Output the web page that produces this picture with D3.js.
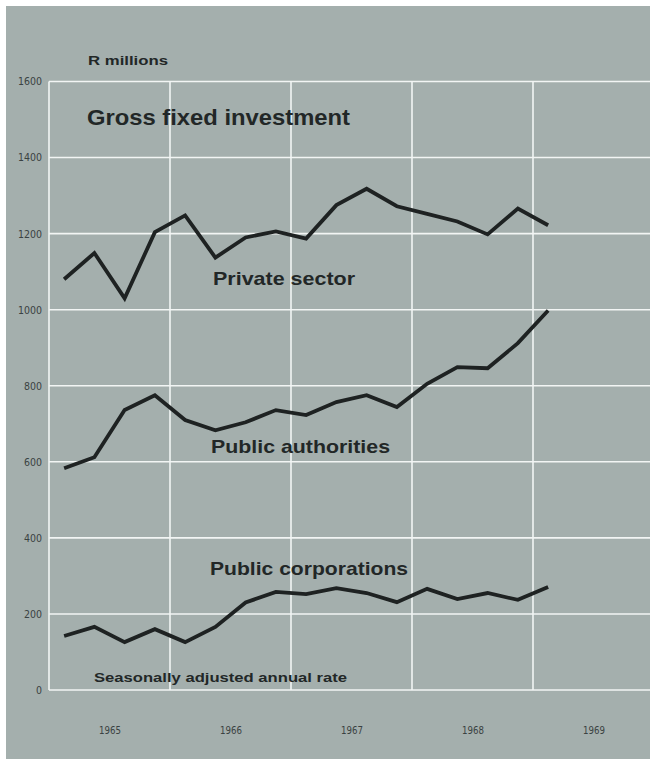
<!DOCTYPE html>
<html>
<head>
<meta charset="utf-8">
<script src="https://cdn.jsdelivr.net/npm/d3@7"></script>
<style>
  html, body { margin: 0; padding: 0; background: #ffffff; }
  svg { display: block; }
</style>
</head>
<body>
<svg id="chart" width="650" height="759"></svg>
<script>
// Quarterly series, R millions, seasonally adjusted annual rate (1965 Q1 – 1969 Q1)
const quarters = [
  "1965Q1","1965Q2","1965Q3","1965Q4",
  "1966Q1","1966Q2","1966Q3","1966Q4",
  "1967Q1","1967Q2","1967Q3","1967Q4",
  "1968Q1","1968Q2","1968Q3","1968Q4",
  "1969Q1"
];
const privateSector = [1080, 1149, 1030, 1204, 1248, 1137, 1190, 1206, 1187, 1275, 1318, 1272, 1252, 1232, 1198, 1266, 1222];
const publicAuthorities = [583, 612, 736, 775, 710, 683, 704, 736, 723, 757, 775, 744, 805, 849, 846, 912, 998];
const publicCorporations = [142, 166, 126, 160, 126, 166, 230, 258, 252, 268, 255, 231, 266, 239, 255, 237, 271];

const yearLabels = ["1965", "1966", "1967", "1968", "1969"];
const yTicks = [0, 200, 400, 600, 800, 1000, 1200, 1400, 1600];

const svg = d3.select("#chart");
const W = 650, H = 759;
const condensed = "'DejaVu Sans Condensed', 'DejaVu Sans', sans-serif";

// paper and panel
svg.append("rect").attr("width", W).attr("height", H).attr("fill", "#ffffff");
svg.append("rect").attr("x", 6).attr("y", 6).attr("width", W - 6).attr("height", H - 6)
  .attr("fill", "#a4afad");

const x = d3.scaleLinear().domain([1965, 1970]).range([49, 654]);
const y = d3.scaleLinear().domain([0, 1600]).range([690, 81.5]);

const qTime = q => +q.slice(0, 4) + (+q.slice(5) - 0.5) / 4;

// grid
const grid = svg.append("g").attr("stroke", "#f2f5f4").attr("stroke-width", 1.6);
grid.selectAll("line.h").data(yTicks).join("line")
  .attr("x1", x(1965)).attr("x2", W)
  .attr("y1", d => y(d)).attr("y2", d => y(d));
grid.selectAll("line.v").data([1965, 1966, 1967, 1968, 1969]).join("line")
  .attr("x1", d => x(d)).attr("x2", d => x(d))
  .attr("y1", y(1600)).attr("y2", y(0));

// y axis labels
const yAxis = d3.axisLeft(y).tickValues(yTicks).tickFormat(d3.format("d"))
  .tickSize(0).tickPadding(7);
const gy = svg.append("g").attr("transform", `translate(${x(1965)},0)`).call(yAxis);
gy.select(".domain").remove();
gy.selectAll("text")
  .attr("font-family", condensed)
  .attr("font-stretch", "condensed")
  .attr("font-size", 10.5).attr("fill", "#3a4242")
  .attr("textLength", d => String(d).length * 6)
  .attr("lengthAdjust", "spacingAndGlyphs");

// x axis year labels (centred in each year band)
const xAxis = d3.axisBottom(x).tickValues(yearLabels.map(d => +d + 0.5))
  .tickFormat(d => String(Math.floor(d))).tickSize(0).tickPadding(0);
const gx = svg.append("g").attr("transform", "translate(0,726)").call(xAxis);
gx.select(".domain").remove();
gx.selectAll("text")
  .attr("font-family", condensed)
  .attr("font-stretch", "condensed")
  .attr("font-size", 11).attr("fill", "#3a4242")
  .attr("textLength", 22)
  .attr("lengthAdjust", "spacingAndGlyphs");

// series lines
const line = d3.line().x((d, i) => x(qTime(quarters[i]))).y(d => y(d));
[privateSector, publicAuthorities, publicCorporations].forEach(s => {
  svg.append("path").datum(s)
    .attr("d", line)
    .attr("fill", "none")
    .attr("stroke", "#1e2222")
    .attr("stroke-width", 3.8)
    .attr("stroke-linejoin", "miter")
    .attr("stroke-linecap", "butt");
});

// text
const label = (txt, px, py, size, len) => svg.append("text")
  .attr("x", px).attr("y", py)
  .attr("font-family", "'Liberation Sans', Arial, sans-serif")
  .attr("font-weight", "bold")
  .attr("font-size", size)
  .attr("fill", "#222727")
  .attr("textLength", len)
  .attr("lengthAdjust", "spacingAndGlyphs")
  .text(txt);

label("R millions", 88, 65, 12, 80);
label("Gross fixed investment", 87, 125, 21.5, 263);
label("Private sector", 213, 285, 18.5, 142);
label("Public authorities", 211, 453, 18.5, 179);
label("Public corporations", 210, 575, 18.5, 198);
label("Seasonally adjusted annual rate", 94, 682, 12.5, 253);
</script>
</body>
</html>
